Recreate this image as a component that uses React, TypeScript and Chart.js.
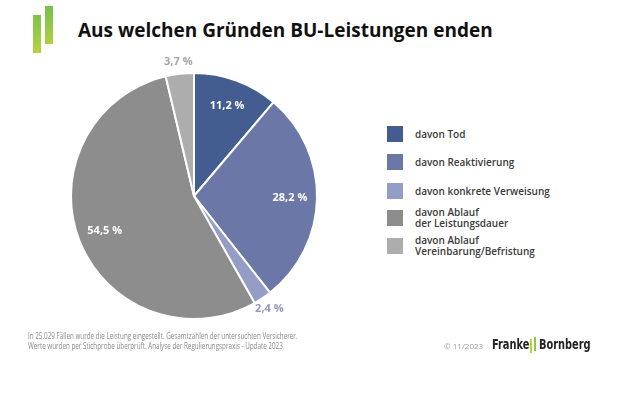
import React, { useEffect, useRef } from "react";
import { Chart, registerables } from "chart.js";

Chart.register(...registerables);

const categories = [
  "davon Tod",
  "davon Reaktivierung",
  "davon konkrete Verweisung",
  "davon Ablauf\nder Leistungsdauer",
  "davon Ablauf\nVereinbarung/Befristung",
];
const values = [11.2, 28.2, 2.4, 54.5, 3.7];
const colors = ["#435d91", "#6b78a7", "#939dc5", "#8d8d8d", "#adadad"];
const outsideLabel = [false, false, true, false, true];
const outsideColors = ["#fff", "#fff", "#8f9ac2", "#fff", "#a5a5a5"];

const fmt = (v: number) => v.toFixed(1).replace(".", ",") + " %";

const labelPlugin = {
  id: "sliceLabels",
  afterDatasetsDraw(chart: any) {
    const ctx = chart.ctx;
    const meta = chart.getDatasetMeta(0);
    ctx.save();
    ctx.font = "bold 11px 'Open Sans', sans-serif";
    ctx.textAlign = "center";
    ctx.textBaseline = "middle";
    meta.data.forEach((arc: any, i: number) => {
      const p = arc.getProps(["x", "y", "startAngle", "endAngle", "outerRadius"], true);
      const mid = (p.startAngle + p.endAngle) / 2;
      const f = outsideLabel[i] ? 1.1 : 0.78;
      const r = p.outerRadius * f;
      const x = p.x + Math.cos(mid) * r;
      const y = p.y + Math.sin(mid) * r;
      ctx.fillStyle = outsideLabel[i] ? outsideColors[i] : "#ffffff";
      ctx.fillText(fmt(values[i]), x, y);
    });
    ctx.restore();
  },
};

export default function App() {
  const ref = useRef<HTMLCanvasElement>(null);
  useEffect(() => {
    if (!ref.current) return;
    const chart = new Chart(ref.current, {
      type: "pie",
      data: {
        labels: categories,
        datasets: [
          {
            data: values,
            backgroundColor: colors,
            borderColor: "#ffffff",
            borderWidth: 2,
            radius: 123,
          } as any,
        ],
      },
      options: {
        animation: false,
        responsive: false,
        maintainAspectRatio: false,
        plugins: { legend: { display: false }, tooltip: { enabled: false } },
      },
      plugins: [labelPlugin],
    });
    return () => chart.destroy();
  }, []);

  const legendTops = [126, 154, 183, 210, 238];
  const logoText: React.CSSProperties = {
    position: "absolute",
    top: 335,
    fontSize: 14,
    fontFamily: "'DejaVu Sans Condensed', sans-serif",
    fontWeight: 700,
    color: "#222",
    whiteSpace: "nowrap",
    lineHeight: "18px",
    transform: "scaleX(0.78)",
    transformOrigin: "left top",
  };

  return (
    <div
      style={{
        position: "absolute",
        left: 0,
        top: 0,
        width: 620,
        height: 413,
        background: "#fff",
        fontFamily: "'Open Sans', sans-serif",
        overflow: "hidden",
      }}
    >
      <div style={{ position: "absolute", left: 33, top: 15, width: 8, height: 38, background: "linear-gradient(#7cc24c, #b7d23e)" }} />
      <div style={{ position: "absolute", left: 45, top: 6, width: 8, height: 38, background: "linear-gradient(#76c04c, #afd040)" }} />
      <div style={{ position: "absolute", left: 78, top: 17, fontSize: 19, fontWeight: 700, color: "#111", whiteSpace: "nowrap", lineHeight: "26px" }}>
        Aus welchen Gründen BU-Leistungen enden
      </div>
      <canvas ref={ref} width={280} height={280} style={{ position: "absolute", left: 54, top: 56, width: 280, height: 280 }} />
      {categories.map((c, i) => (
        <React.Fragment key={i}>
          <div style={{ position: "absolute", left: 387, top: legendTops[i], width: 16, height: 16, background: colors[i] }} />
          <div
            style={{
              position: "absolute",
              left: 415,
              top: legendTops[i] + 8,
              transform: "translateY(-50%)",
              fontSize: 10,
              fontWeight: 600,
              lineHeight: "11px",
              color: "#3a3a3a",
              whiteSpace: "pre",
            }}
          >
            {c}
          </div>
        </React.Fragment>
      ))}
      <div
        style={{
          position: "absolute",
          left: 28,
          top: 331,
          fontSize: 8.5,
          lineHeight: "10px",
          color: "#8a8a8a",
          whiteSpace: "pre",
          transform: "scaleX(0.74)",
          transformOrigin: "left top",
        }}
      >
        {"In 25.029 Fällen wurde die Leistung eingestellt. Gesamtzahlen der untersuchten Versicherer.\nWerte wurden per Stichprobe überprüft. Analyse der Regulierungspraxis - Update 2023"}
      </div>
      <div style={{ position: "absolute", left: 444, top: 340, fontSize: 8, color: "#999", whiteSpace: "nowrap" }}>© 11/2023</div>
      <div style={{ ...logoText, left: 492 }}>Franke</div>
      <div style={{ position: "absolute", left: 530, top: 339, width: 2, height: 14, background: "#b5d33f" }} />
      <div style={{ position: "absolute", left: 534, top: 337, width: 2, height: 14, background: "#8cc64a" }} />
      <div style={{ ...logoText, left: 539 }}>Bornberg</div>
    </div>
  );
}
